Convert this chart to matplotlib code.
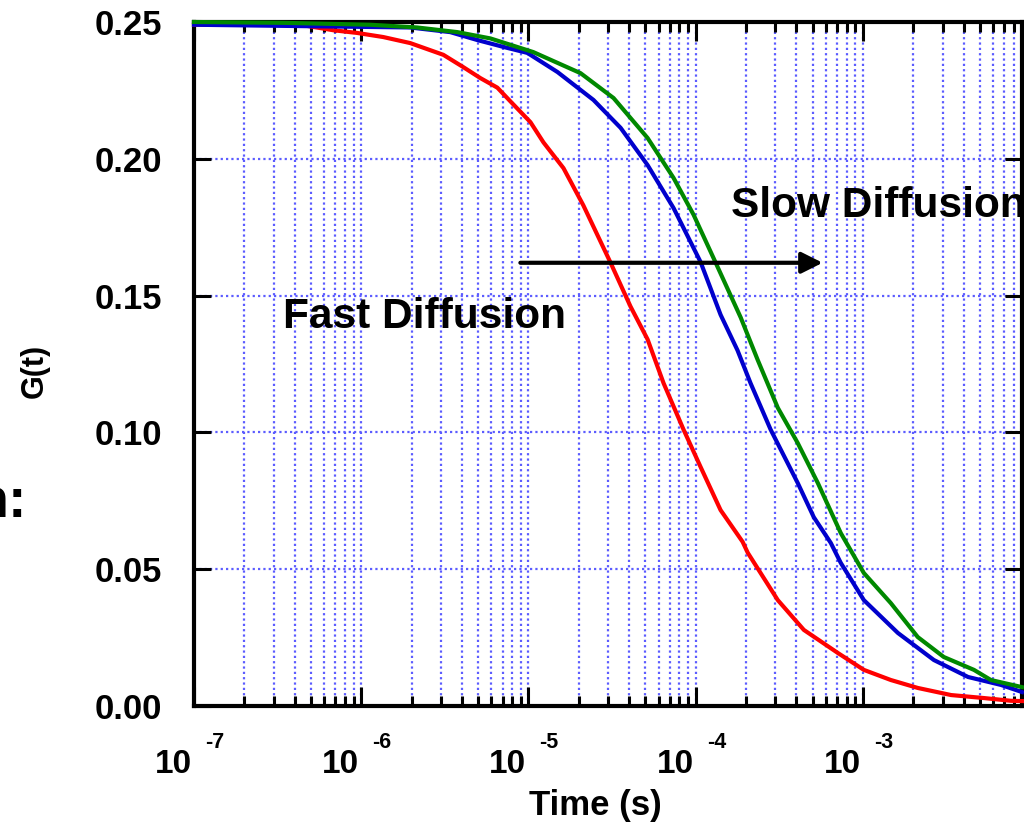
import numpy as np
import matplotlib.pyplot as plt
from matplotlib.ticker import LogLocator, NullFormatter

plt.rcParams['font.family'] = ['Liberation Sans', 'DejaVu Sans']
plt.rcParams['font.weight'] = 'bold'

# data (time in s, G(t))
t_fast = [1.0e-7, 4.32e-7, 6.79e-7, 9.46e-7, 1.355e-6, 1.963e-6, 3.10e-6, 4.08e-6,
          5.16e-6, 6.52e-6, 7.80e-6, 1.028e-5, 1.23e-5, 1.62e-5, 2.13e-5, 3.10e-5,
          4.08e-5, 5.16e-5, 6.43e-5, 8.47e-5, 1.07e-4, 1.41e-4, 1.91e-4, 2.05e-4,
          3.10e-4, 4.44e-4, 7.08e-4, 1.014e-3, 1.47e-3, 2.13e-3, 3.37e-3, 5.31e-3,
          7.69e-3, 8.95e-3]
g_fast = [0.249, 0.249, 0.247, 0.246, 0.2445, 0.2423, 0.238, 0.2335,
          0.2295, 0.226, 0.221, 0.2134, 0.206, 0.1966, 0.183, 0.162,
          0.146, 0.134, 0.118, 0.101, 0.0874, 0.0716, 0.0600, 0.0560,
          0.0387, 0.0278, 0.0194, 0.0132, 0.0095, 0.0066, 0.0040, 0.0029,
          0.0019, 0.0018]

t_mid = [1.0e-7, 1.963e-6, 3.41e-6, 4.95e-6, 7.08e-6, 9.86e-6, 1.493e-5, 2.45e-5,
         3.56e-5, 5.16e-5, 7.38e-5, 1.07e-4, 1.41e-4, 1.78e-4, 2.13e-4, 2.81e-4,
         4.08e-4, 5.09e-4, 6.43e-4, 7.38e-4, 1.014e-3, 1.62e-3, 2.66e-3, 4.26e-3,
         6.70e-3, 8.95e-3]
g_mid = [0.249, 0.248, 0.2463, 0.2434, 0.2409, 0.2387, 0.2317, 0.2215,
         0.2113, 0.1977, 0.182, 0.1623, 0.143, 0.130, 0.118, 0.101,
         0.0815, 0.069, 0.0596, 0.0523, 0.0387, 0.0267, 0.0168, 0.0106,
         0.0077, 0.0051]

t_slow = [1.0e-7, 3.41e-7, 1.132e-6, 2.16e-6, 3.76e-6, 5.92e-6, 1.07e-5, 2.05e-5,
          3.23e-5, 5.16e-5, 7.38e-5, 9.73e-5, 1.28e-4, 1.86e-4, 2.35e-4, 3.10e-4,
          4.08e-4, 5.38e-4, 7.38e-4, 1.014e-3, 1.47e-3, 2.13e-3, 3.05e-3, 4.62e-3,
          5.83e-3, 8.95e-3]
g_slow = [0.2500, 0.2497, 0.249, 0.248, 0.2463, 0.244, 0.239, 0.2313,
          0.2222, 0.2076, 0.193, 0.1795, 0.1637, 0.142, 0.1265, 0.109,
          0.0961, 0.0815, 0.0632, 0.0486, 0.0376, 0.0252, 0.0179, 0.0132,
          0.0095, 0.0069]

y_ticks = [0.00, 0.05, 0.10, 0.15, 0.20, 0.25]
decades = [-7, -6, -5, -4, -3]

W, H = 1024, 825
fig = plt.figure(figsize=(W / 100, H / 100), dpi=100)
ax = fig.add_axes([194 / W, 119 / H, 828 / W, 684 / H])

ax.plot(t_fast, g_fast, color='#ff0000', lw=3, clip_on=False, zorder=3)
ax.plot(t_mid, g_mid, color='#0000cc', lw=3, clip_on=False, zorder=3)
ax.plot(t_slow, g_slow, color='#008800', lw=3, clip_on=False, zorder=3)

ax.set_xscale('log')
ax.set_xlim(1e-7, 8.95e-3)
ax.set_ylim(0, 0.25)

ax.xaxis.set_major_locator(LogLocator(base=10, numticks=20))
ax.xaxis.set_minor_locator(LogLocator(base=10, subs=np.arange(2, 10), numticks=100))
ax.xaxis.set_major_formatter(NullFormatter())
ax.xaxis.set_minor_formatter(NullFormatter())
ax.set_yticks(y_ticks)
ax.set_yticklabels(['%.2f' % v for v in y_ticks])

ax.tick_params(axis='both', which='both', direction='in', top=True, right=True, width=2.2)
ax.tick_params(axis='x', which='major', length=14)
ax.tick_params(axis='x', which='minor', length=7)
ax.tick_params(axis='y', which='major', length=12, pad=23, labelsize=25)
for sp in ax.spines.values():
    sp.set_linewidth(3)

grid_kw = dict(color='#5c5cff', lw=1.6, linestyle=(0, (1, 1.4)))
ax.grid(True, which='both', axis='x', **grid_kw)
ax.grid(True, which='major', axis='y', **grid_kw)
ax.set_axisbelow(True)

# tick labels written as "10" plus a raised exponent
for d in decades:
    ax.annotate('10', xy=(10.0 ** d, 0), xycoords=('data', 'axes fraction'),
                xytext=(-2, -67), textcoords='offset pixels',
                ha='right', va='baseline', fontsize=24, fontweight='bold')
    ax.annotate(str(d), xy=(10.0 ** d, 0), xycoords=('data', 'axes fraction'),
                xytext=(11, -42), textcoords='offset pixels',
                ha='left', va='baseline', fontsize=15.5, fontweight='bold')

fig.text(595 / W, 1 - 815 / H, 'Time (s)', ha='center', va='baseline',
         fontsize=25, fontweight='bold')
fig.text(35 / W, 1 - 371 / H, 'G(t)', rotation=90, ha='center', va='center',
         fontsize=22, fontweight='bold')
fig.text(27 / W, 1 - 517 / H, 'n:', ha='right', va='baseline',
         fontsize=40, fontweight='bold')

ax.text(1.62e-4, 0.1787, 'Slow Diffusion', ha='left', va='baseline',
        fontsize=30.5, fontweight='bold')
ax.text(3.41e-7, 0.138, 'Fast Diffusion', ha='left', va='baseline',
        fontsize=30.5, fontweight='bold')
ax.annotate('', xy=(5.75e-4, 0.162), xytext=(8.95e-6, 0.162),
            arrowprops=dict(arrowstyle='-|>', lw=3, color='black',
                            mutation_scale=32, shrinkA=0, shrinkB=0))

fig.savefig('out.png', dpi=100)
